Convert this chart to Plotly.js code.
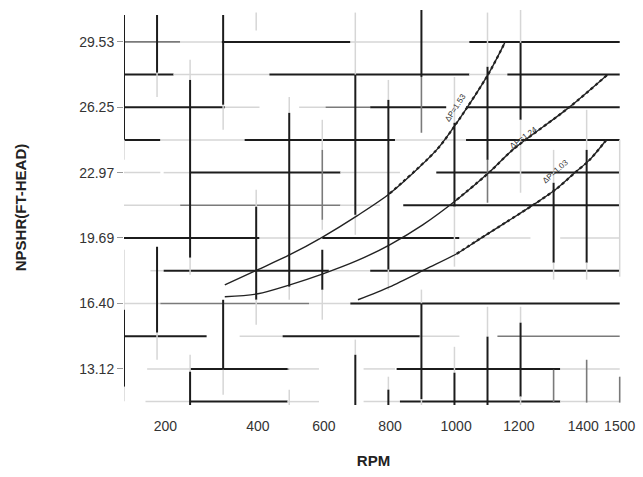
<!DOCTYPE html>
<html>
<head>
<meta charset="utf-8">
<script src="https://cdn.plot.ly/plotly-3.0.1.min.js"></script>
<style>html,body{margin:0;padding:0;background:#fff;}#chart{width:643px;height:477px;}</style>
</head>
<body>
<div id="chart"></div>
<script>
// Curves (RPM vs NPSHR, ft-head)
const rpm1 = [305, 405, 502, 602, 705, 804, 946, 1007, 1101, 1152];
const npsh1 = [17.34, 18.10, 18.85, 19.75, 20.80, 21.92, 24.11, 25.47, 27.87, 29.48];
const rpm2 = [305, 405, 502, 602, 705, 804, 904, 1007, 1107, 1176, 1349, 1463];
const npsh2 = [16.74, 16.89, 17.34, 17.89, 18.55, 19.35, 20.35, 21.61, 23.01, 24.11, 26.27, 27.88];
const rpm3 = [708, 804, 916, 1007, 1077, 1158, 1243, 1309, 1364, 1409, 1460];
const npsh3 = [16.59, 17.24, 18.15, 18.90, 19.65, 20.50, 21.40, 22.16, 22.96, 23.61, 24.62];
const curveLabels = ["ΔP=1.53", "ΔP=1.24", "ΔP=1.03"];

// Tick labels
const yTickVals = [13.12, 16.40, 19.69, 22.97, 26.25, 29.53];
const yTickText = ["13.12", "16.40", "19.69", "22.97", "26.25", "29.53"];
const xTickVals = [125, 405, 605, 805, 1005, 1195, 1390, 1500];
const xTickText = ["200", "400", "600", "800", "1000", "1200", "1400", "1500"];

// Broken (scanned) grid segments: [value, from, to, strength]
const hGrid = [
  [29.53, 0, 170, 1], [29.53, 170, 296, 0], [29.53, 296, 685, 2], [29.53, 685, 1045, 0], [29.53, 1045, 1500, 2],
  [27.89, 0, 150, 2], [27.89, 150, 440, 0], [27.89, 440, 1045, 2], [27.89, 1045, 1160, 0], [27.89, 1160, 1500, 2],
  [26.25, 0, 305, 2], [26.25, 305, 410, 0], [26.25, 530, 610, 0], [26.25, 610, 745, 1], [26.25, 745, 975, 2], [26.25, 1035, 1500, 2],
  [24.61, 0, 110, 2], [24.61, 110, 365, 0], [24.61, 365, 820, 2], [24.61, 820, 1035, 0], [24.61, 1035, 1500, 2],
  [22.97, 0, 110, 0], [22.97, 120, 200, 0], [22.97, 200, 655, 2], [22.97, 655, 835, 0], [22.97, 945, 1500, 2],
  [21.33, 0, 170, 0], [21.33, 170, 655, 1], [21.33, 655, 775, 0], [21.33, 845, 1500, 2],
  [19.69, 0, 410, 2], [19.69, 410, 590, 0], [19.69, 600, 1015, 2], [19.69, 1015, 1230, 0], [19.69, 1320, 1500, 0],
  [18.05, 80, 120, 0], [18.05, 120, 620, 2], [18.05, 620, 745, 0], [18.05, 745, 1500, 2],
  [16.40, 0, 110, 0], [16.40, 110, 560, 1], [16.40, 560, 715, 0], [16.40, 685, 1500, 2],
  [14.76, 0, 250, 2], [14.76, 350, 480, 0], [14.76, 480, 895, 2], [14.76, 895, 1015, 0], [14.76, 1130, 1500, 1],
  [13.12, 70, 200, 0], [13.12, 200, 500, 2], [13.12, 495, 590, 0], [13.12, 725, 820, 0], [13.12, 825, 1320, 2], [13.12, 1320, 1500, 0],
  [11.48, 65, 200, 0], [11.48, 200, 495, 2], [11.48, 495, 590, 0], [11.48, 725, 835, 0], [11.48, 835, 1320, 2], [11.48, 1320, 1500, 0]
];
const vGrid = [
  [0, 24.62, 30.88, 2], [0, 23.61, 24.62, 0], [0, 16.09, 19.10, 0], [0, 12.23, 16.09, 2], [0, 11.5, 12.23, 0],
  [100, 27.98, 30.88, 2], [100, 26.77, 27.98, 0], [100, 14.94, 19.25, 2], [100, 13.58, 14.94, 0],
  [200, 27.62, 28.63, 0], [200, 18.70, 27.62, 2], [200, 17.85, 18.70, 0], [200, 12.98, 13.83, 0], [200, 11.3, 12.98, 2],
  [300, 26.37, 30.88, 2], [300, 25.12, 26.37, 0], [300, 13.08, 16.59, 2], [300, 11.83, 13.08, 0],
  [400, 30.1, 31.0, 0], [400, 21.26, 22.11, 0], [400, 16.59, 21.26, 2], [400, 15.34, 16.59, 0],
  [500, 25.97, 26.77, 0], [500, 17.24, 25.97, 2], [500, 16.59, 17.24, 0], [500, 11.3, 12.08, 0],
  [600, 24.11, 25.62, 0], [600, 20.6, 24.11, 1], [600, 20.1, 20.6, 0], [600, 17.09, 19.10, 2], [600, 15.59, 17.09, 0],
  [700, 27.88, 31.0, 0], [700, 20.85, 27.88, 2], [700, 19.85, 20.85, 0], [700, 13.83, 14.59, 0], [700, 11.3, 13.83, 2],
  [800, 26.62, 27.62, 0], [800, 18.10, 26.62, 2], [800, 17.09, 18.10, 0], [800, 12.08, 12.73, 0], [800, 11.3, 12.08, 2],
  [900, 27.77, 31.13, 2], [900, 24.97, 27.77, 1], [900, 16.4, 17.1, 0], [900, 11.6, 16.4, 2], [900, 11.3, 11.6, 0],
  [1000, 25.47, 27.77, 0], [1000, 21.26, 25.47, 2], [1000, 18.25, 21.26, 0], [1000, 12.93, 14.23, 0], [1000, 11.3, 12.93, 2],
  [1100, 28.28, 31.0, 0], [1100, 23.61, 28.28, 2], [1100, 21.46, 23.61, 1], [1100, 14.74, 16.24, 0], [1100, 11.3, 14.74, 2],
  [1200, 29.48, 31.13, 0], [1200, 25.62, 29.48, 2], [1200, 21.96, 25.62, 0], [1200, 15.44, 16.24, 0], [1200, 11.73, 15.44, 2], [1200, 11.3, 11.73, 0],
  [1300, 22.46, 24.11, 0], [1300, 18.45, 22.46, 2], [1300, 17.6, 18.45, 0], [1300, 11.43, 13.08, 1],
  [1400, 24.11, 26.12, 0], [1400, 18.45, 24.11, 2], [1400, 17.6, 18.45, 0], [1400, 11.43, 13.58, 1],
  [1500, 17.75, 24.62, 0], [1500, 11.43, 12.73, 1]
];

const strength = {
  2: {color: '#1c1c1c', width: 2},
  1: {color: '#7a7a7a', width: 1.6},
  0: {color: '#d6d6d6', width: 1.5}
};

const shapes = [];
hGrid.forEach(s => shapes.push({type: 'line', xref: 'x', yref: 'y', layer: 'below',
  x0: s[1], x1: s[2], y0: s[0], y1: s[0], line: strength[s[3]]}));
vGrid.forEach(s => shapes.push({type: 'line', xref: 'x', yref: 'y', layer: 'below',
  x0: s[0], x1: s[0], y0: s[1], y1: s[2], line: strength[s[3]]}));

const curves = [[rpm1, npsh1, 5], [rpm2, npsh2, 7], [rpm3, npsh3, 3]];
const traces = [];
curves.forEach(c => {
  traces.push({x: c[0], y: c[1], type: 'scatter', mode: 'lines', hoverinfo: 'skip', showlegend: false,
    line: {color: '#222', width: 1.4, shape: 'spline', smoothing: 0.8}});
});
curves.forEach(c => {
  traces.push({x: c[0].slice(c[2]), y: c[1].slice(c[2]), type: 'scatter', mode: 'lines', hoverinfo: 'skip', showlegend: false,
    line: {color: '#222', width: 2.2, dash: 'dot', shape: 'spline', smoothing: 0.8}});
});

const labelSpots = [
  {x: 1004, y: 26.22, angle: -57},
  {x: 1210, y: 24.72, angle: -36},
  {x: 1306, y: 23.01, angle: -42}
];
const annotations = labelSpots.map((p, i) => ({
  x: p.x, y: p.y, xref: 'x', yref: 'y', text: curveLabels[i], showarrow: false,
  textangle: p.angle, font: {family: 'Liberation Sans, Arial, sans-serif', size: 8, color: '#333'}
}));

const layout = {
  width: 643, height: 477,
  margin: {l: 124, r: 20, t: 10, b: 72},
  paper_bgcolor: '#fff', plot_bgcolor: '#fff',
  showlegend: false,
  font: {family: 'Liberation Sans, Arial, sans-serif', color: '#333'},
  xaxis: {
    range: [0, 1510], showgrid: false, zeroline: false, showline: false,
    tickvals: xTickVals, ticktext: xTickText, tickangle: 0, ticks: '',
    tickfont: {size: 14, color: '#333'}, ticklabelstandoff: 11,
    title: {text: 'RPM', font: {size: 15, color: '#222', weight: 'bold'}, standoff: 22},
    automargin: false
  },
  yaxis: {
    range: [11.31, 31.13], showgrid: false, zeroline: false, showline: false,
    tickvals: yTickVals, ticktext: yTickText, ticks: 'outside', ticklen: 6, tickcolor: '#999', tickwidth: 1,
    tickfont: {size: 14, color: '#333'},
    title: {text: 'NPSHR(FT-HEAD)', font: {size: 15, color: '#222', weight: 'bold'}, standoff: 48},
    automargin: false
  },
  shapes: shapes,
  annotations: annotations
};

Plotly.newPlot('chart', traces, layout, {displayModeBar: false, staticPlot: true});
</script>
</body>
</html>
